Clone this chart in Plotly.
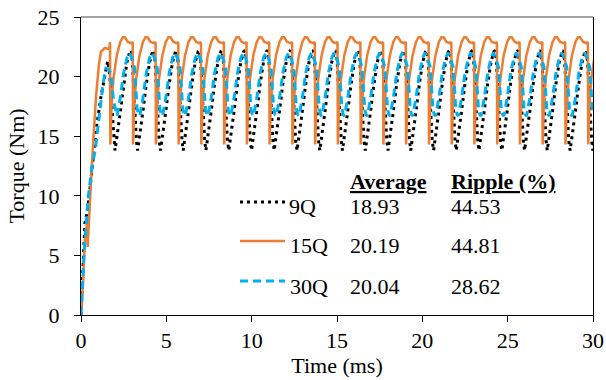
import plotly.graph_objects as go

# ---------------- data ----------------
series_names = ["9Q", "15Q", "30Q"]
averages = ["18.93", "20.19", "20.04"]
ripples = ["44.53", "44.81", "28.62"]

# start-up transients (time ms, torque Nm)
q9_start_t = [0, 0.10, 0.23, 0.41, 0.59, 0.70, 0.88, 1.17, 1.46, 1.56, 1.66, 1.76, 1.89]
q9_start_v = [0, 3.5, 7.7, 9.0, 11.5, 13.3, 15.5, 18.3, 20.8, 21.3, 20.5, 18.3, 15.6]
q15_start_t = [0, 0.13, 0.23, 0.37, 0.39, 0.63, 0.88, 1.05, 1.17, 1.40, 1.66]
q15_start_v = [0, 2.9, 6.3, 7.9, 5.7, 12.5, 18.3, 21.0, 22.1, 22.4, 22.3]
q30_start_t = [0, 0.05, 0.19, 0.40, 0.60, 0.85, 1.07, 1.30, 1.46, 1.60, 1.76, 1.90]
q30_start_v = [0, 1.5, 5.4, 9.5, 12.0, 14.0, 16.9, 19.5, 20.7, 20.6, 20.3, 18.0]

# cycle start times (ms)
q15_cycle_t = [1.70, 3.03, 4.37, 5.70, 7.03, 8.37, 9.70, 11.03, 12.37, 13.70, 15.03,
               16.37, 17.70, 19.03, 20.37, 21.70, 23.03, 24.37, 25.70, 27.03, 28.37, 29.70]
q9_cycle_t = [1.99, 3.32, 4.66, 5.99, 7.32, 8.66, 9.99, 11.32, 12.66, 13.99, 15.32,
              16.66, 17.99, 19.32, 20.66, 21.99, 23.32, 24.66, 25.99, 27.32, 28.66, 29.99]
q30_cycle_t = [2.11, 3.44, 4.78, 6.11, 7.44, 8.78, 10.11, 11.44, 12.78, 14.11, 15.44,
               16.78, 18.11, 19.44, 20.78, 22.11, 23.44, 24.78, 26.11, 27.44, 28.78]

# one cycle of each waveform (offset ms from cycle start, torque Nm)
q15_cyc_dt = [0.00, 0.02, 0.09, 0.20, 0.40, 0.60, 0.75, 0.87, 1.05, 1.25]
q15_cyc_v = [22.9, 14.3, 17.5, 19.8, 21.8, 22.9, 23.3, 23.3, 22.9, 22.8]
q9_cyc_dt = [0.00, 0.15, 0.30, 0.50, 0.70, 0.87, 0.95, 1.02, 1.10, 1.18, 1.26]
q9_cyc_v = [13.8, 15.3, 17.0, 19.3, 21.2, 22.1, 22.2, 21.3, 19.0, 16.5, 14.6]
q30_cyc_dt = [0.00, 0.20, 0.39, 0.59, 0.73, 0.88, 1.02, 1.11, 1.18, 1.26]
q30_cyc_v = [16.7, 18.3, 20.3, 21.6, 22.0, 21.5, 20.8, 18.9, 17.3, 16.8]


def build(start_t, start_v, cycle_t, cyc_dt, cyc_v):
    xs, ys = list(start_t), list(start_v)
    for t0 in cycle_t:
        for dt, v in zip(cyc_dt, cyc_v):
            xs.append(round(t0 + dt, 3))
            ys.append(v)
    return xs, ys


q9_x, q9_y = build(q9_start_t, q9_start_v, q9_cycle_t, q9_cyc_dt, q9_cyc_v)
q15_x, q15_y = build(q15_start_t, q15_start_v, q15_cycle_t, q15_cyc_dt, q15_cyc_v)
q30_x, q30_y = build(q30_start_t, q30_start_v, q30_cycle_t, q30_cyc_dt, q30_cyc_v)

# ---------------- styling ----------------
FONT = "Times New Roman"
C9, C15, C30 = "#000000", "#ED7D31", "#00B0F0"
styles = [
    dict(color=C9, width=3, dash="3px,4px"),
    dict(color=C15, width=2.5, dash="solid"),
    dict(color=C30, width=3, dash="8px,5px"),
]

W, H = 606, 380
ML, MR, MT, MB = 81, 13, 17, 65
PW, PH = W - ML - MR, H - MT - MB


def px(xp):
    return (xp - ML) / PW


def py(yp):
    return (H - MB - yp) / PH


fig = go.Figure()
for name, xs, ys, st in zip(series_names, [q9_x, q15_x, q30_x], [q9_y, q15_y, q30_y], styles):
    fig.add_trace(go.Scatter(x=xs, y=ys, mode="lines", name=name, line=st,
                             showlegend=False, cliponaxis=True))

axis_common = dict(showgrid=False, zeroline=False, showline=True, linecolor="black",
                   linewidth=1, ticks="outside", ticklen=6, tickcolor="black",
                   tickwidth=1, automargin=False,
                   tickfont=dict(family=FONT, size=22, color="black"))

fig.update_xaxes(range=[0, 30], dtick=5, tick0=0,
                 title=dict(text="Time (ms)", font=dict(family=FONT, size=22, color="black"),
                            standoff=2),
                 **axis_common)
fig.update_yaxes(range=[0, 25], dtick=5, tick0=0, mirror=True,
                 title=dict(text="Torque (Nm)", font=dict(family=FONT, size=22, color="black"),
                            standoff=6),
                 ticklabelstandoff=10,
                 **axis_common)

shapes = [dict(type="line", xref="paper", yref="paper", x0=0, x1=1, y0=1, y1=1,
               line=dict(color="#858585", width=1.5))]
annotations = []

# table header
for txt, xl in [("Average", 348), ("Ripple (%)", 449)]:
    annotations.append(dict(text="<b><u>" + txt + "</u></b>", x=px(xl), y=py(182),
                            xref="paper", yref="paper", xanchor="left", yanchor="middle",
                            showarrow=False, font=dict(family=FONT, size=22, color="black")))

row_y = [206, 245, 286]
line_y = [202, 241, 281]
label_x = [287, 288, 288]
for i, name in enumerate(series_names):
    st = styles[i]
    shapes.append(dict(type="line", xref="paper", yref="paper",
                       x0=px(240), x1=px(285), y0=py(line_y[i]), y1=py(line_y[i]),
                       line=dict(color=st["color"], width=st["width"], dash=st["dash"])))
    for txt, xl in [(name, label_x[i]), (averages[i], 348), (ripples[i], 449)]:
        annotations.append(dict(text=txt, x=px(xl), y=py(row_y[i]), xref="paper", yref="paper",
                                xanchor="left", yanchor="middle", showarrow=False,
                                font=dict(family=FONT, size=22, color="black")))

fig.update_layout(width=W, height=H, margin=dict(l=ML, r=MR, t=MT, b=MB),
                  paper_bgcolor="white", plot_bgcolor="white",
                  font=dict(family=FONT, size=22, color="black"),
                  shapes=shapes, annotations=annotations, showlegend=False)

fig.write_html("out.html")
